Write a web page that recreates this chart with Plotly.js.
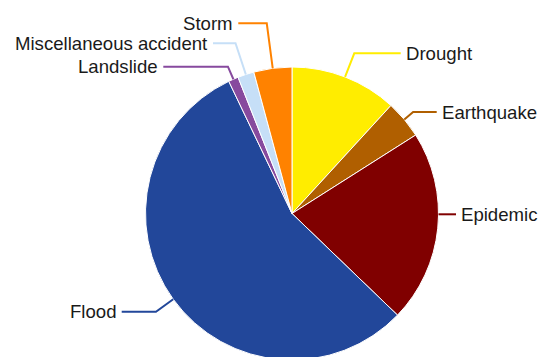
<!DOCTYPE html>
<html>
<head>
<meta charset="utf-8">
<script src="https://cdn.plot.ly/plotly-3.0.1.min.js"></script>
<style>
  html, body { margin: 0; padding: 0; background: #ffffff; overflow: hidden; }
  #chart { width: 538px; height: 362px; }
</style>
</head>
<body>
<div id="chart"></div>
<script>
// Share of disaster events by type (%)
const disasterTypes = ["Drought", "Earthquake", "Epidemic", "Flood", "Landslide", "Miscellaneous accident", "Storm"];
const sharePct = [11.8, 4.2, 21.2, 55.7, 1.1, 1.8, 4.2];
const sliceColors = ["#ffed00", "#b05f00", "#800000", "#22479a", "#874a9e", "#c6dff7", "#ff8200"];

// Label rows: vertical position of each label and where its connector ends (px)
const labelRowY   = [53.3, 112, 214.3, 311.7, 66.7, 43.3, 23.3];
const labelLineX  = [400.7, 436.7, 456, 121.7, 163.3, 213, 238.3];

const W = 538, H = 362;
const CX = 292, CY = 213.5, R = 146.5;
const GAP = 5;

const px = x => x / W;
const py = y => 1 - y / H;

const total = sharePct.reduce((a, b) => a + b, 0);
const shapes = [];
const annotations = [];
let cum = 0;
sharePct.forEach((v, i) => {
  const mid = (cum + v / 2) / total * 2 * Math.PI; // clockwise from 12 o'clock
  cum += v;
  const ex = CX + R * Math.sin(mid), ey = CY - R * Math.cos(mid);
  const ly = labelRowY[i], lx = labelLineX[i];
  const right = lx > CX;
  let path;
  const rr = (CY - ly) / Math.cos(mid);
  if (rr > R) {
    const kx = CX + rr * Math.sin(mid);
    path = `M${px(ex)},${py(ey)} L${px(kx)},${py(ly)} L${px(lx)},${py(ly)}`;
  } else {
    const bx = CX + (right ? 1 : -1) * Math.sqrt(Math.max(0, R * R - (ly - CY) * (ly - CY)));
    path = `M${px(bx)},${py(ly)} L${px(lx)},${py(ly)}`;
  }
  shapes.push({
    type: "path", xref: "paper", yref: "paper", layer: "above", path: path,
    line: { color: sliceColors[i], width: 2 }
  });
  annotations.push({
    xref: "paper", yref: "paper",
    x: px(lx + (right ? GAP : -GAP)), y: py(ly),
    xanchor: right ? "left" : "right", yanchor: "middle",
    text: disasterTypes[i], showarrow: false,
    borderpad: 0, borderwidth: 0,
    font: { family: "Liberation Sans, Arial, sans-serif", size: 18.6, color: "#1a1a1a" }
  });
});

const data = [{
  type: "pie",
  labels: disasterTypes,
  values: sharePct,
  sort: false,
  direction: "clockwise",
  rotation: 0,
  textinfo: "none",
  hoverinfo: "label+percent",
  marker: { colors: sliceColors, line: { color: "#ffffff", width: 1 } },
  domain: { x: [px(CX - R), px(CX + R)], y: [py(CY + R), py(CY - R)] }
}];

const layout = {
  width: W, height: H,
  margin: { l: 0, r: 0, t: 0, b: 0, pad: 0 },
  paper_bgcolor: "#ffffff",
  showlegend: false,
  shapes: shapes,
  annotations: annotations
};

Plotly.newPlot("chart", data, layout, { staticPlot: true, displayModeBar: false });
</script>
</body>
</html>
